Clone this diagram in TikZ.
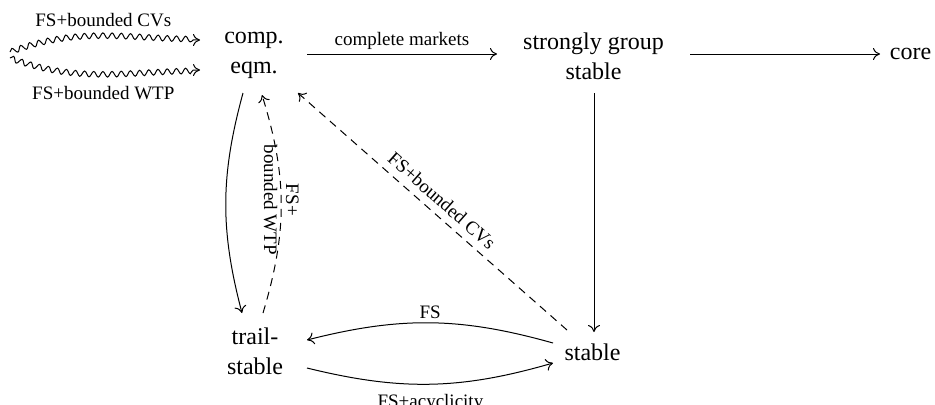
\documentclass[tikz,border=0pt]{standalone}
\usepackage{fontspec}
\setmainfont{Liberation Serif}
\usetikzlibrary{decorations.pathmorphing, arrows.meta}
\begin{document}
\begin{tikzpicture}[x=0.5pt, y=0.5pt,
  every node/.style={inner sep=0pt},
  obj/.style={align=center, font=\fontsize{12}{15}\selectfont},
  lab/.style={font=\fontsize{9.5}{11}\selectfont},
  arr/.style={line width=0.5pt, -{Computer Modern Rightarrow[length=3.5pt,width=6pt]}},
  dsh/.style={arr, dash pattern=on 4pt off 3pt},
  squig/.style={arr, decorate, decoration={snake, amplitude=1.4pt, segment length=4.6pt, post length=3pt}},
]
\useasboundingbox (0,0) rectangle (935,404);

\node[obj] (comp) at (254,349) {comp.\\eqm.};
\node[obj] (sgs) at (593.5,348) {strongly group\\stable};
\node[obj] (core) at (910.5,350) {core};
\node[obj] (trail) at (255,53) {trail-\\stable};
\node[obj] (stable) at (592.5,52) {stable};

\coordinate (s1) at (10,352);
\coordinate (s2) at (10,346);

% squiggly arrows
\draw[squig] (s1) to[out=20,in=180]
  node[lab, midway, above=4.5pt] {FS+bounded CVs} ([shift={(-54,15)}]comp.center);
\draw[squig] (s2) to[out=-20,in=180]
  node[lab, midway, below=6pt] {FS+bounded WTP} ([shift={(-54,-15)}]comp.center);

% top row
\draw[arr] ([shift={(53,1)}]comp.center) --
  node[lab, midway, above=2pt] {complete markets} ([shift={(-96.5,2)}]sgs.center);
\draw[arr] ([shift={(96.5,2)}]sgs.center) -- ([shift={(-30.5,0)}]core.center);

% vertical
\draw[arr] ([shift={(0.5,-37)}]sgs.center) -- ([shift={(1.5,20)}]stable.center);

% left pair
\draw[arr] ([shift={(-11,-38)}]comp.center) to[bend right=15] ([shift={(-13,38)}]trail.center);
\draw[dsh] ([shift={(8,38)}]trail.center) to[bend right=17]
  node[lab, midway, rotate=-90, align=center, xshift=-2pt] {FS+\\bounded WTP} ([shift={(8,-40)}]comp.center);

% diagonal
\draw[dsh] ([shift={(-25.5,22)}]stable.center) --
  node[lab, midway, sloped, above=3.5pt] {FS+bounded CVs} ([shift={(44,-38)}]comp.center);

% bottom pair
\draw[arr] ([shift={(-39.5,9)}]stable.center) to[bend right=15]
  node[lab, midway, above=2pt] {FS} ([shift={(52,11)}]trail.center);
\draw[arr] ([shift={(52,-17)}]trail.center) to[bend right=15]
  node[lab, midway, below=5pt] {FS+acyclicity} ([shift={(-39.5,-11)}]stable.center);
\end{tikzpicture}
\end{document}
